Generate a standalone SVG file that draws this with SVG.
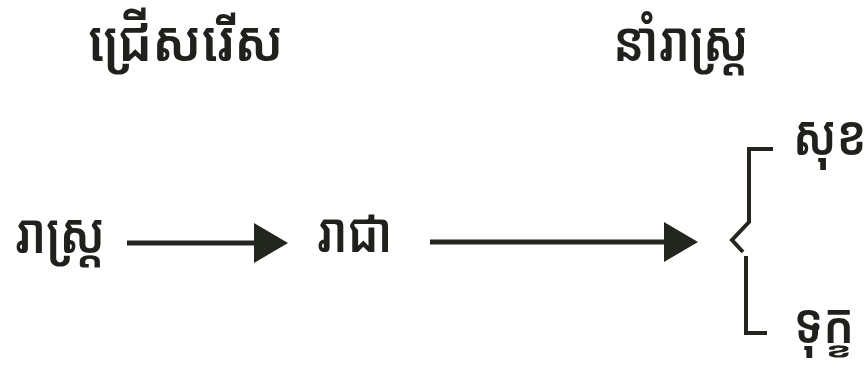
<svg xmlns="http://www.w3.org/2000/svg" width="867" height="382" viewBox="0 0 867 382">
<style>
text{font-family:"Noto Sans Khmer","Noto Serif Khmer","Khmer OS","Khmer OS System","DejaVu Sans",sans-serif;font-size:53px;font-weight:600;fill:#1f221c}
.conn{stroke:#23261f;stroke-width:5;fill:none}
.br{stroke:#23261f;stroke-width:4;fill:none}
</style>
<defs>
<marker id="ah" markerUnits="userSpaceOnUse" markerWidth="34" markerHeight="40" refX="0" refY="20" orient="auto">
<path d="M0,0 L34,20 L0,40 Z" fill="#23261f"/>
</marker>
</defs>
<rect width="867" height="382" fill="#ffffff"/>
<g id="n-choose"><text transform="translate(88,61) scale(0.97,1.05)">ជ្រើសរើស</text></g>
<g id="n-lead"><text transform="translate(613,61) scale(0.9,1.05)">នាំរាស្ត្រ</text></g>
<g id="n-people"><text transform="translate(15,253) scale(0.9,1.05)">រាស្ត្រ</text></g>
<g id="n-king"><text transform="translate(317,252) scale(0.88,1.05)">រាជា</text></g>
<g id="n-happy"><text transform="translate(793,155) scale(0.86,1.05)">សុខ</text></g>
<g id="n-sad"><text transform="translate(794,343) scale(0.88,1.05)">ទុក្ខ</text></g>
<g id="connectors">
<line class="conn" x1="127" y1="243" x2="254" y2="243" marker-end="url(#ah)"/>
<line class="conn" x1="430" y1="242" x2="664" y2="242" marker-end="url(#ah)"/>
<path class="br" d="M773,149 L749,149 L749,222 L732,240 L743,252"/>
<path class="br" d="M746,256 L746,333 L767,333"/>
</g>
</svg>
